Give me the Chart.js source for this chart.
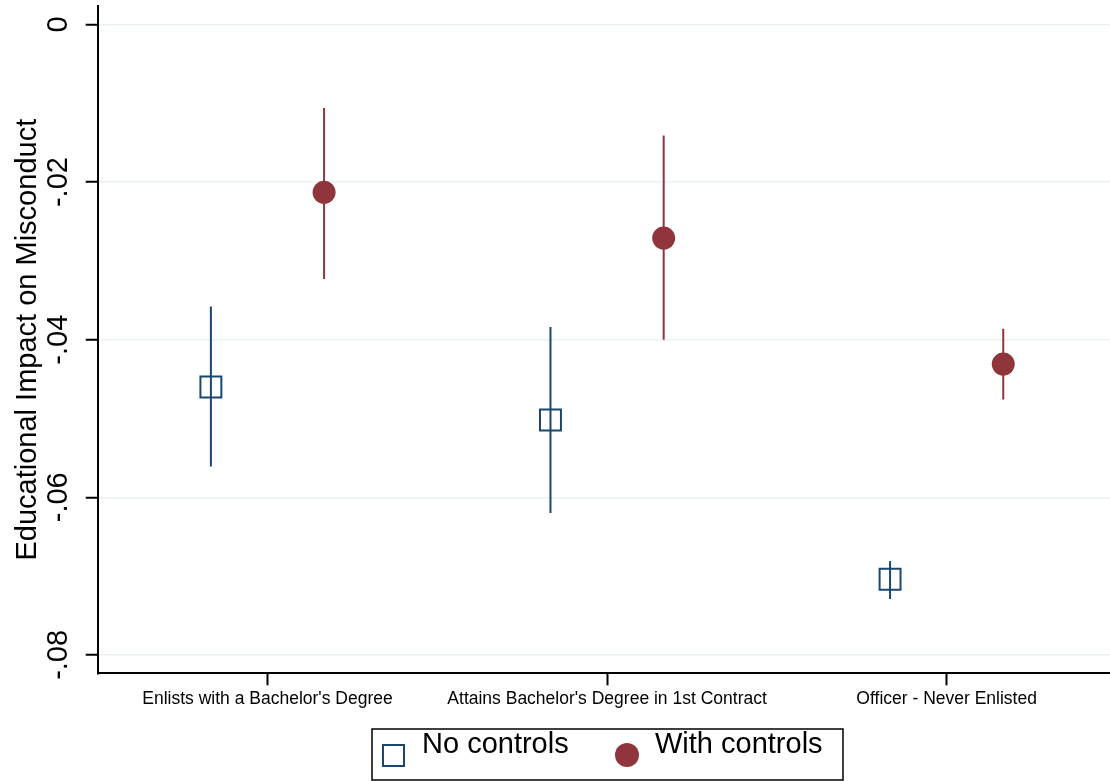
<!DOCTYPE html>
<html>
<head>
<meta charset="utf-8">
<script src="https://cdn.jsdelivr.net/npm/chart.js@4.4.1/dist/chart.umd.min.js"></script>
<style>
  html, body { margin: 0; padding: 0; background: #fff; overflow: hidden; }
  #wrap { width: 1110px; height: 781px; position: relative; }
  canvas { display: block; }
</style>
</head>
<body>
<div id="wrap"><canvas id="coefChart"></canvas></div>
<script>
// categories and estimates
const categories = ["Enlists with a Bachelor's Degree", "Attains Bachelor's Degree in 1st Contract", "Officer - Never Enlisted"];
const noControls = [-0.0460, -0.0502, -0.0704];
const noControlsLo = [-0.0561, -0.0620, -0.0729];
const noControlsHi = [-0.0358, -0.0384, -0.0681];
const withControls = [-0.0213, -0.0271, -0.0431];
const withControlsLo = [-0.0323, -0.0400, -0.0476];
const withControlsHi = [-0.0106, -0.0141, -0.0386];
const yTicks = [0, -0.02, -0.04, -0.06, -0.08];
const yTickLabels = ['0', '-.02', '-.04', '-.06', '-.08'];
const legendLabels = ['No controls', 'With controls'];

const NAVY = '#1a476f';
const MAROON = '#90353b';
const GRID = '#eaf2f3';
const FONT = '"Liberation Sans", Arial, sans-serif';
const OFFSET = 1 / 6;   // horizontal shift of each series around its category

function points(vals, shift) {
    return vals.map((v, i) => ({ x: i + 1 + shift, y: v }));
}

function ciSegments(lo, hi, shift) {
    const out = [];
    lo.forEach((v, i) => {
        out.push({ x: i + 1 + shift, y: v });
        out.push({ x: i + 1 + shift, y: hi[i] });
        out.push({ x: i + 1 + shift, y: null });
    });
    return out;
}

// rotated y tick labels, y title and the boxed legend
const stataDecor = {
    id: 'stataDecor',
    afterDraw(chart) {
        const ctx = chart.ctx;
        const y = chart.scales.y;
        const area = chart.chartArea;

        ctx.save();
        ctx.fillStyle = '#000';
        ctx.font = '29px ' + FONT;
        ctx.textAlign = 'center';
        ctx.textBaseline = 'alphabetic';
        yTicks.forEach((t, i) => {
            ctx.save();
            ctx.translate(67, y.getPixelForValue(t));
            ctx.rotate(-Math.PI / 2);
            ctx.fillText(yTickLabels[i], 0, 0);
            ctx.restore();
        });

        ctx.save();
        ctx.translate(36, (area.top + area.bottom) / 2);
        ctx.rotate(-Math.PI / 2);
        ctx.fillText('Educational Impact on Misconduct', 0, 0);
        ctx.restore();

        // legend box
        ctx.strokeStyle = '#000';
        ctx.lineWidth = 1.5;
        ctx.strokeRect(372, 729, 471, 51);

        ctx.strokeStyle = NAVY;
        ctx.lineWidth = 2;
        ctx.strokeRect(383, 745, 21, 21);

        ctx.fillStyle = MAROON;
        ctx.beginPath();
        ctx.arc(627, 755, 12, 0, Math.PI * 2);
        ctx.fill();

        ctx.fillStyle = '#000';
        ctx.textAlign = 'left';
        ctx.fillText(legendLabels[0], 422, 753);
        ctx.fillText(legendLabels[1], 655, 753);
        ctx.restore();
    }
};

new Chart(document.getElementById('coefChart'), {
    type: 'scatter',
    data: {
        datasets: [
            {
                label: legendLabels[1],
                data: points(withControls, OFFSET),
                pointStyle: 'circle',
                pointRadius: 11.5,
                pointBackgroundColor: MAROON,
                pointBorderWidth: 0
            },
            {
                label: legendLabels[0],
                data: points(noControls, -OFFSET),
                pointStyle: 'rect',
                pointRadius: 14.8,
                pointBackgroundColor: 'rgba(0,0,0,0)',
                pointBorderColor: NAVY,
                pointBorderWidth: 2
            },
            {
                label: 'ci with',
                data: ciSegments(withControlsLo, withControlsHi, OFFSET),
                showLine: true,
                spanGaps: false,
                borderColor: MAROON,
                borderWidth: 2,
                pointRadius: 0
            },
            {
                label: 'ci no',
                data: ciSegments(noControlsLo, noControlsHi, -OFFSET),
                showLine: true,
                spanGaps: false,
                borderColor: NAVY,
                borderWidth: 2,
                pointRadius: 0
            }
        ]
    },
    options: {
        responsive: true,
        maintainAspectRatio: false,
        animation: false,
        events: [],
        layout: { autoPadding: false, padding: { top: 6, left: 0, right: 0, bottom: 0 } },
        plugins: {
            legend: { display: false },
            tooltip: { enabled: false }
        },
        scales: {
            x: {
                type: 'linear',
                min: 0.5,
                max: 3.481,
                afterBuildTicks: (s) => { s.ticks = [1, 2, 3].map(v => ({ value: v })); },
                afterFit: (s) => { s.height = 107.7; },
                border: { color: '#000', width: 2 },
                grid: { drawOnChartArea: false, drawTicks: true, tickLength: 12, tickColor: '#000', tickWidth: 2 },
                ticks: {
                    color: '#000',
                    font: { family: FONT, size: 17.5 },
                    padding: 3,
                    maxRotation: 0,
                    autoSkip: false,
                    callback: (v) => categories[v - 1]
                }
            },
            y: {
                min: -0.08234,
                max: 0.00235,
                afterBuildTicks: (s) => { s.ticks = yTicks.map(v => ({ value: v })); },
                afterFit: (s) => { s.width = 97.7; },
                border: { color: '#000', width: 2 },
                grid: { color: GRID, lineWidth: 1.5, drawTicks: true, tickLength: 12, tickColor: '#000', tickWidth: 2 },
                ticks: { display: false }
            }
        }
    },
    plugins: [stataDecor]
});
</script>
</body>
</html>
